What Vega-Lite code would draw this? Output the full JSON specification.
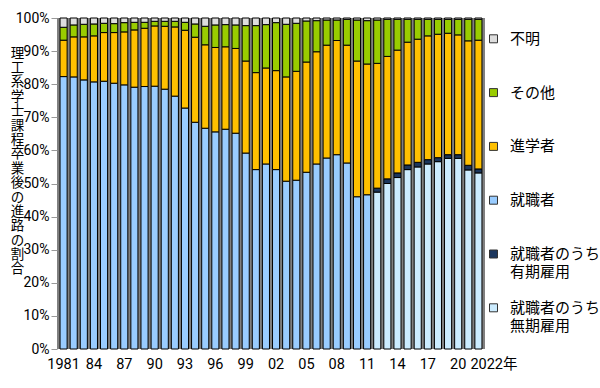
{
  "$schema": "https://vega.github.io/schema/vega-lite/v6.json",
  "width": 428,
  "height": 331,
  "autosize": {"type": "none"},
  "padding": {"left": 57, "top": 18, "right": 115, "bottom": 39},
  "background": "white",
  "config": {
    "font": "Noto Sans CJK JP",
    "view": {"fill": "#808080", "stroke": null},
    "style": {"guide-label": {"lineHeight": 18}}
  },
  "data": {"values": [
    {"year":1981,"cat":"就職者","value":82.3},{"year":1981,"cat":"進学者","value":11.0},{"year":1981,"cat":"その他","value":3.9},{"year":1981,"cat":"不明","value":2.8},
    {"year":1982,"cat":"就職者","value":82.2},{"year":1982,"cat":"進学者","value":12.1},{"year":1982,"cat":"その他","value":3.6},{"year":1982,"cat":"不明","value":2.1},
    {"year":1983,"cat":"就職者","value":81.3},{"year":1983,"cat":"進学者","value":13.0},{"year":1983,"cat":"その他","value":3.8},{"year":1983,"cat":"不明","value":1.9},
    {"year":1984,"cat":"就職者","value":80.7},{"year":1984,"cat":"進学者","value":13.9},{"year":1984,"cat":"その他","value":3.6},{"year":1984,"cat":"不明","value":1.8},
    {"year":1985,"cat":"就職者","value":80.9},{"year":1985,"cat":"進学者","value":14.7},{"year":1985,"cat":"その他","value":2.8},{"year":1985,"cat":"不明","value":1.6},
    {"year":1986,"cat":"就職者","value":80.3},{"year":1986,"cat":"進学者","value":15.3},{"year":1986,"cat":"その他","value":2.7},{"year":1986,"cat":"不明","value":1.7},
    {"year":1987,"cat":"就職者","value":79.8},{"year":1987,"cat":"進学者","value":16.0},{"year":1987,"cat":"その他","value":2.8},{"year":1987,"cat":"不明","value":1.4},
    {"year":1988,"cat":"就職者","value":79.1},{"year":1988,"cat":"進学者","value":17.3},{"year":1988,"cat":"その他","value":2.3},{"year":1988,"cat":"不明","value":1.3},
    {"year":1989,"cat":"就職者","value":79.3},{"year":1989,"cat":"進学者","value":17.6},{"year":1989,"cat":"その他","value":1.8},{"year":1989,"cat":"不明","value":1.3},
    {"year":1990,"cat":"就職者","value":79.4},{"year":1990,"cat":"進学者","value":18.2},{"year":1990,"cat":"その他","value":1.4},{"year":1990,"cat":"不明","value":1.0},
    {"year":1991,"cat":"就職者","value":78.5},{"year":1991,"cat":"進学者","value":19.0},{"year":1991,"cat":"その他","value":1.5},{"year":1991,"cat":"不明","value":1.0},
    {"year":1992,"cat":"就職者","value":76.4},{"year":1992,"cat":"進学者","value":20.9},{"year":1992,"cat":"その他","value":1.7},{"year":1992,"cat":"不明","value":1.0},
    {"year":1993,"cat":"就職者","value":72.8},{"year":1993,"cat":"進学者","value":23.5},{"year":1993,"cat":"その他","value":2.4},{"year":1993,"cat":"不明","value":1.3},
    {"year":1994,"cat":"就職者","value":68.5},{"year":1994,"cat":"進学者","value":25.7},{"year":1994,"cat":"その他","value":4.0},{"year":1994,"cat":"不明","value":1.8},
    {"year":1995,"cat":"就職者","value":66.7},{"year":1995,"cat":"進学者","value":25.2},{"year":1995,"cat":"その他","value":5.6},{"year":1995,"cat":"不明","value":2.5},
    {"year":1996,"cat":"就職者","value":65.6},{"year":1996,"cat":"進学者","value":25.5},{"year":1996,"cat":"その他","value":6.8},{"year":1996,"cat":"不明","value":2.1},
    {"year":1997,"cat":"就職者","value":66.4},{"year":1997,"cat":"進学者","value":24.9},{"year":1997,"cat":"その他","value":6.7},{"year":1997,"cat":"不明","value":2.0},
    {"year":1998,"cat":"就職者","value":65.2},{"year":1998,"cat":"進学者","value":25.6},{"year":1998,"cat":"その他","value":7.1},{"year":1998,"cat":"不明","value":2.1},
    {"year":1999,"cat":"就職者","value":59.2},{"year":1999,"cat":"進学者","value":27.8},{"year":1999,"cat":"その他","value":10.7},{"year":1999,"cat":"不明","value":2.3},
    {"year":2000,"cat":"就職者","value":54.2},{"year":2000,"cat":"進学者","value":29.3},{"year":2000,"cat":"その他","value":14.2},{"year":2000,"cat":"不明","value":2.3},
    {"year":2001,"cat":"就職者","value":55.9},{"year":2001,"cat":"進学者","value":29.0},{"year":2001,"cat":"その他","value":13.1},{"year":2001,"cat":"不明","value":2.0},
    {"year":2002,"cat":"就職者","value":54.2},{"year":2002,"cat":"進学者","value":29.9},{"year":2002,"cat":"その他","value":14.5},{"year":2002,"cat":"不明","value":1.4},
    {"year":2003,"cat":"就職者","value":50.7},{"year":2003,"cat":"進学者","value":31.5},{"year":2003,"cat":"その他","value":15.9},{"year":2003,"cat":"不明","value":1.9},
    {"year":2004,"cat":"就職者","value":51.0},{"year":2004,"cat":"進学者","value":32.9},{"year":2004,"cat":"その他","value":14.5},{"year":2004,"cat":"不明","value":1.6},
    {"year":2005,"cat":"就職者","value":53.4},{"year":2005,"cat":"進学者","value":33.3},{"year":2005,"cat":"その他","value":12.4},{"year":2005,"cat":"不明","value":0.9},
    {"year":2006,"cat":"就職者","value":55.9},{"year":2006,"cat":"進学者","value":33.9},{"year":2006,"cat":"その他","value":9.4},{"year":2006,"cat":"不明","value":0.8},
    {"year":2007,"cat":"就職者","value":57.7},{"year":2007,"cat":"進学者","value":34.1},{"year":2007,"cat":"その他","value":7.6},{"year":2007,"cat":"不明","value":0.6},
    {"year":2008,"cat":"就職者","value":58.7},{"year":2008,"cat":"進学者","value":34.5},{"year":2008,"cat":"その他","value":6.2},{"year":2008,"cat":"不明","value":0.6},
    {"year":2009,"cat":"就職者","value":56.2},{"year":2009,"cat":"進学者","value":35.6},{"year":2009,"cat":"その他","value":7.8},{"year":2009,"cat":"不明","value":0.4},
    {"year":2010,"cat":"就職者","value":46.0},{"year":2010,"cat":"進学者","value":41.0},{"year":2010,"cat":"その他","value":12.4},{"year":2010,"cat":"不明","value":0.6},
    {"year":2011,"cat":"就職者","value":46.6},{"year":2011,"cat":"進学者","value":39.5},{"year":2011,"cat":"その他","value":13.1},{"year":2011,"cat":"不明","value":0.8},
    {"year":2012,"cat":"就職者のうち無期雇用","value":47.4},{"year":2012,"cat":"就職者のうち有期雇用","value":1.2},{"year":2012,"cat":"進学者","value":37.7},{"year":2012,"cat":"その他","value":13.1},{"year":2012,"cat":"不明","value":0.6},
    {"year":2013,"cat":"就職者のうち無期雇用","value":50.0},{"year":2013,"cat":"就職者のうち有期雇用","value":1.4},{"year":2013,"cat":"進学者","value":37.0},{"year":2013,"cat":"その他","value":11.2},{"year":2013,"cat":"不明","value":0.4},
    {"year":2014,"cat":"就職者のうち無期雇用","value":51.8},{"year":2014,"cat":"就職者のうち有期雇用","value":1.4},{"year":2014,"cat":"進学者","value":37.1},{"year":2014,"cat":"その他","value":9.3},{"year":2014,"cat":"不明","value":0.4},
    {"year":2015,"cat":"就職者のうち無期雇用","value":54.2},{"year":2015,"cat":"就職者のうち有期雇用","value":1.4},{"year":2015,"cat":"進学者","value":37.1},{"year":2015,"cat":"その他","value":6.9},{"year":2015,"cat":"不明","value":0.4},
    {"year":2016,"cat":"就職者のうち無期雇用","value":55.0},{"year":2016,"cat":"就職者のうち有期雇用","value":1.4},{"year":2016,"cat":"進学者","value":37.2},{"year":2016,"cat":"その他","value":6.0},{"year":2016,"cat":"不明","value":0.4},
    {"year":2017,"cat":"就職者のうち無期雇用","value":55.9},{"year":2017,"cat":"就職者のうち有期雇用","value":1.3},{"year":2017,"cat":"進学者","value":37.4},{"year":2017,"cat":"その他","value":5.0},{"year":2017,"cat":"不明","value":0.4},
    {"year":2018,"cat":"就職者のうち無期雇用","value":56.6},{"year":2018,"cat":"就職者のうち有期雇用","value":1.2},{"year":2018,"cat":"進学者","value":37.3},{"year":2018,"cat":"その他","value":4.5},{"year":2018,"cat":"不明","value":0.4},
    {"year":2019,"cat":"就職者のうち無期雇用","value":57.6},{"year":2019,"cat":"就職者のうち有期雇用","value":1.1},{"year":2019,"cat":"進学者","value":36.7},{"year":2019,"cat":"その他","value":4.2},{"year":2019,"cat":"不明","value":0.4},
    {"year":2020,"cat":"就職者のうち無期雇用","value":57.6},{"year":2020,"cat":"就職者のうち有期雇用","value":1.1},{"year":2020,"cat":"進学者","value":36.2},{"year":2020,"cat":"その他","value":4.7},{"year":2020,"cat":"不明","value":0.4},
    {"year":2021,"cat":"就職者のうち無期雇用","value":54.1},{"year":2021,"cat":"就職者のうち有期雇用","value":1.4},{"year":2021,"cat":"進学者","value":37.6},{"year":2021,"cat":"その他","value":6.5},{"year":2021,"cat":"不明","value":0.4},
    {"year":2022,"cat":"就職者のうち無期雇用","value":53.2},{"year":2022,"cat":"就職者のうち有期雇用","value":1.2},{"year":2022,"cat":"進学者","value":38.9},{"year":2022,"cat":"その他","value":6.3},{"year":2022,"cat":"不明","value":0.4}
  ]},
  "transform": [
    {"calculate": "indexof(['就職者のうち無期雇用', '就職者のうち有期雇用', '就職者', '進学者', 'その他', '不明'], datum.cat)", "as": "stackOrder"}
  ],
  "mark": {"type": "bar", "stroke": "#000000", "strokeWidth": 1},
  "encoding": {
    "x": {
      "field": "year", "type": "ordinal",
      "scale": {"paddingInner": 0.3, "paddingOuter": 0.3},
      "axis": {
        "title": null,
        "labelExpr": "datum.value == 1981 ? '1981' : datum.value == 2022 ? '2022年' : ((datum.value - 1981) % 3 == 0 ? slice(toString(datum.value), 2) : '')",
        "labelAngle": 0,
        "labelFont": "Roboto, Noto Sans CJK JP",
        "labelFontSize": 14.5,
        "labelColor": "#000000",
        "labelOverlap": false,
        "labelPadding": 8,
        "labelAlign": {"condition": {"test": "datum.value == 2022", "value": "left"}, "value": "center"},
        "labelOffset": {"condition": {"test": "datum.value == 2022", "value": -8}, "value": 0},
        "ticks": false,
        "domain": false
      }
    },
    "y": {
      "field": "value", "type": "quantitative", "stack": "zero",
      "scale": {"domain": [0, 100], "nice": false},
      "axis": {
        "values": [0, 10, 20, 30, 40, 50, 60, 70, 80, 90, 100],
        "labelExpr": "datum.value + '%'",
        "labelFont": "Roboto",
        "labelFontSize": 14,
        "labelColor": "#000000",
        "labelPadding": 2,
        "grid": false,
        "domain": false,
        "ticks": true,
        "tickSize": 6,
        "tickColor": "#999999",
        "title": ["理","工","系","学","士","課","程","卒","業","後","の","進","路","の","割","合"],
        "titleAngle": 0,
        "titleFontSize": 13.5,
        "titleFontWeight": "normal",
        "titleColor": "#000000",
        "titleLineHeight": 14.4,
        "titleAlign": "center",
        "titleBaseline": "top",
        "titleX": -40,
        "titleY": 28
      }
    },
    "color": {
      "field": "cat", "type": "nominal",
      "sort": ["不明", "その他", "進学者", "就職者", "就職者のうち有期雇用", "就職者のうち無期雇用"],
      "scale": {
        "domain": ["不明", "その他", "進学者", "就職者", "就職者のうち有期雇用", "就職者のうち無期雇用"],
        "range": ["#DDDDDD", "#99CC00", "#FFC000", "#99CCFF", "#1B365D", "#CCECFF"]
      },
      "legend": {
        "orient": "none",
        "legendX": 429,
        "legendY": 13.3,
        "title": null,
        "padding": 0,
        "symbolType": "square",
        "symbolSize": 64,
        "symbolStrokeColor": "#333333",
        "symbolStrokeWidth": 1,
        "labelFontSize": 15,
        "labelExpr": "datum.label == '就職者のうち有期雇用' ? ['就職者のうち', '有期雇用'] : datum.label == '就職者のうち無期雇用' ? ['就職者のうち', '無期雇用'] : [datum.label, '']",
        "labelColor": "#000000",
        "labelLimit": 0,
        "labelOffset": 9,
        "rowPadding": 19.8
      }
    },
    "order": {"field": "stackOrder", "type": "quantitative", "sort": "ascending"}
  }
}
